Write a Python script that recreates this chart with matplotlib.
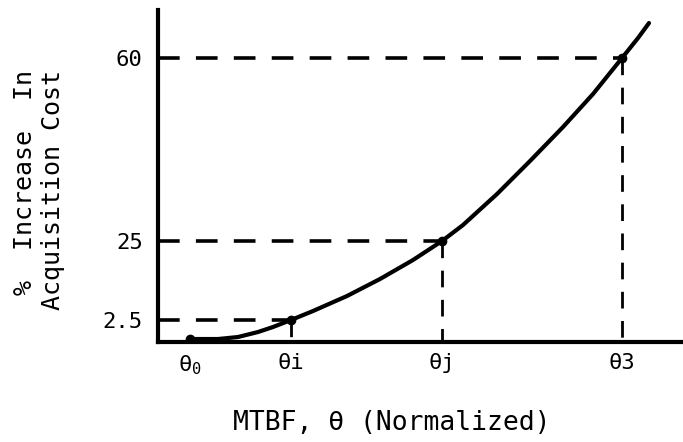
import numpy as np
from matplotlib import pyplot as plt

point_x = [32, 133, 284, 464]
point_y = [3, 22, 101, 284]
point_labels = [r'θ$_\mathtt{0}$', 'θi', 'θj', 'θ3']
cost_labels = ['', '2.5', '25', '60']

curve_x = [32, 60, 80, 100, 115, 133, 155, 189, 222, 255, 284,
           305, 339, 372, 405, 435, 464, 480, 491]
curve_y = [3, 3, 5, 10, 15, 22, 31, 46, 63, 82, 101,
           117, 148, 181, 215, 248, 284, 304, 319]

mono = 'DejaVu Sans Mono'

fig = plt.figure(figsize=(6.83, 4.42), dpi=100)
ax = fig.add_axes([0.2313, 0.2262, 0.7687, 0.7511])

ax.plot(curve_x, curve_y, color='black', lw=3, solid_capstyle='round',
        solid_joinstyle='round', zorder=3)
ax.plot(point_x, point_y, 'o', color='black', ms=6, zorder=4)

# guide lines from each marked point back to the axes
for px, py in zip(point_x[1:], point_y[1:]):
    ax.plot([0, px], [py, py], color='black', lw=2.6, dashes=(6, 4.5))
    ax.plot([px, px], [py, 0], color='black', lw=2.0, dashes=(6, 4.5))

ax.set_xlim(0, 525)
ax.set_ylim(0, 332)

ax.spines['top'].set_visible(False)
ax.spines['right'].set_visible(False)
ax.spines['left'].set_linewidth(3)
ax.spines['bottom'].set_linewidth(3)

ax.set_xticks(point_x)
ax.set_xticklabels(point_labels, fontfamily=mono, fontsize=16)
ax.set_yticks(point_y[1:])
ax.set_yticklabels(cost_labels[1:], fontfamily=mono, fontsize=16)
ax.tick_params(axis='both', length=0)
ax.tick_params(axis='x', pad=8)
ax.tick_params(axis='y', pad=11)

fig.text(0.057, 0.57, '%  Increase  In\nAcquisition Cost', rotation=90,
         ha='center', va='center', multialignment='right',
         fontfamily=mono, fontsize=18, linespacing=1.25)
fig.text(0.574, 0.043, 'MTBF, θ (Normalized)', ha='center', va='center',
         fontfamily=mono, fontsize=19)

plt.savefig('out.png', dpi=100)
